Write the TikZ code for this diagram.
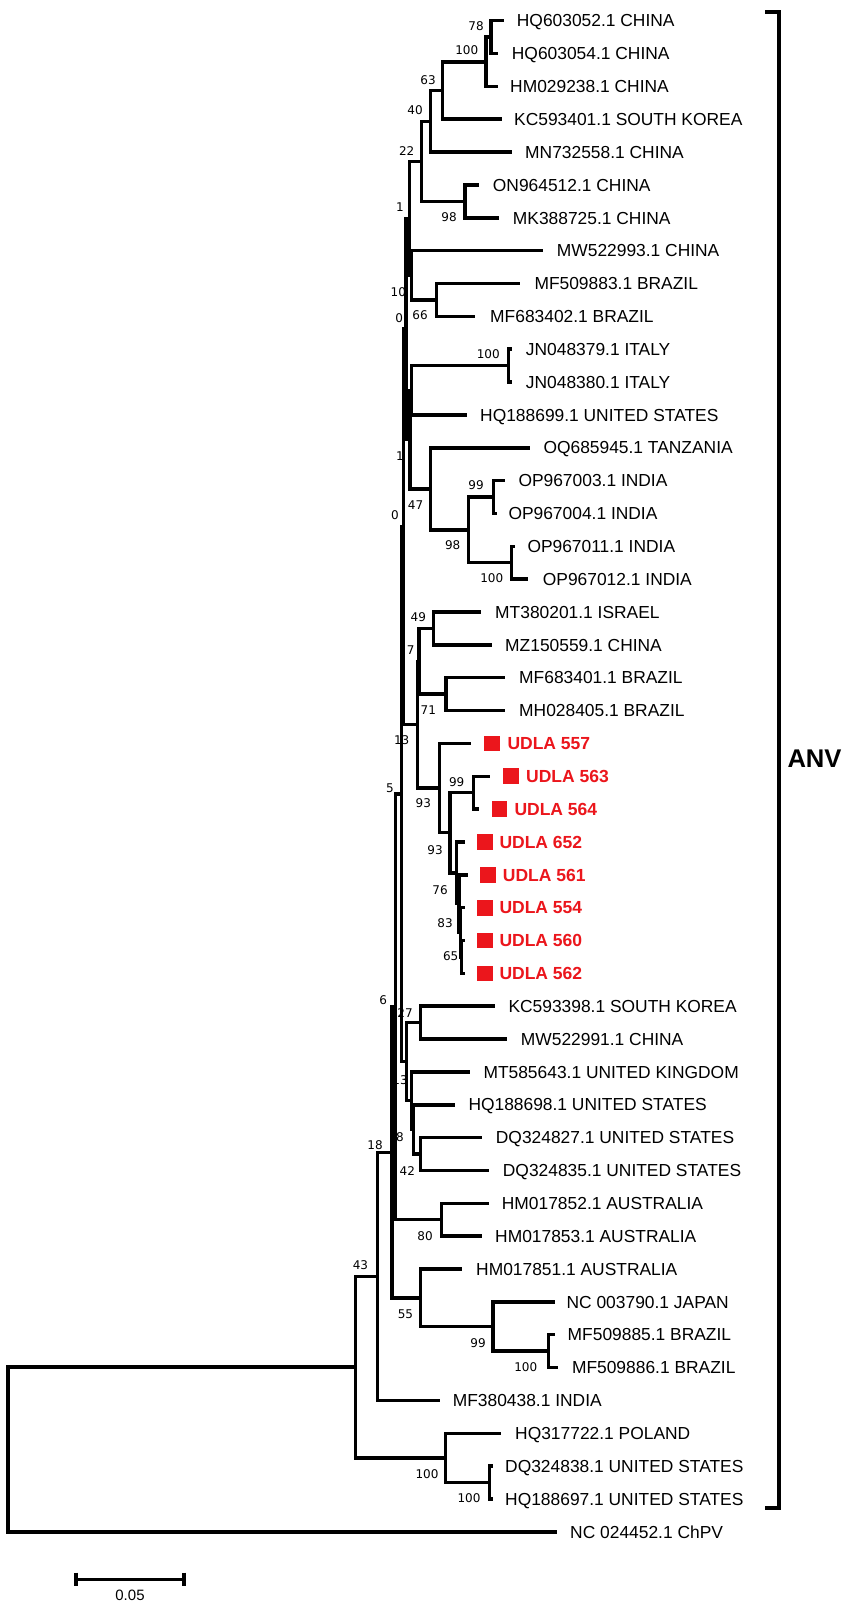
\documentclass[tikz,border=0pt]{standalone}
\usepackage{fontspec}
\setmainfont{Liberation Sans}
\newfontfamily\dejavu{DejaVu Sans}
\definecolor{udred}{RGB}{235,22,28}
\newcommand\lfnt{\fontsize{17.4}{20}\selectfont}
\newcommand\bfnt{\dejavu\fontsize{12}{14}\selectfont}
\newcommand\ufnt{\bfseries\fontsize{17.5}{20}\selectfont}
\newcommand\mkleaf[5]{\coordinate (#1) at (#2,#3); \node[leaf] (#1t) at (#4,#3) {#5};}
\newcommand\mkudla[6]{\coordinate (#1) at (#2,#3); \node[sq] (#1s) at ({#4+7.85},#3) {}; \node[ulab] (#1t) at (#5,#3) {#6};}
\tikzset{
  br/.style={line width=3.5pt, line cap=rect},
  leaf/.style={anchor=base west, inner sep=0pt, yshift=-6.2pt, font=\lfnt},
  ulab/.style={anchor=base west, inner sep=0pt, yshift=-6.3pt, font=\ufnt, text=udred},
  sq/.style={fill=udred, draw=none, minimum size=15.7pt, inner sep=0pt},
  bs/.style={inner sep=0pt, font=\bfnt},
  brk/.style={line width=4pt},
  sbar/.style={line width=3.5pt},
}
\begin{document}
\begin{tikzpicture}[x=1pt,y=-1pt]
\fill[white] (0,0) rectangle (851,1608);
\useasboundingbox (0,0) rectangle (851,1608);

% ---------- leaves ----------
\mkleaf{L1}{502.7}{20.70}{516.7}{HQ603052.1 CHINA}
\mkleaf{L2}{496}{53.55}{511.7}{HQ603054.1 CHINA}
\mkleaf{L3}{496.7}{86.40}{510}{HM029238.1 CHINA}
\mkleaf{L4}{500}{119.25}{514}{KC593401.1 SOUTH KOREA}
\mkleaf{L5}{510}{152.10}{525}{MN732558.1 CHINA}
\mkleaf{L6}{477.3}{184.95}{492.7}{ON964512.1 CHINA}
\mkleaf{L7}{497.3}{217.80}{512.7}{MK388725.1 CHINA}
\mkleaf{L8}{541.7}{250.65}{556.7}{MW522993.1 CHINA}
\mkleaf{L9}{518.3}{283.50}{534.3}{MF509883.1 BRAZIL}
\mkleaf{L10}{473.3}{316.35}{490}{MF683402.1 BRAZIL}
\mkleaf{L11}{509.8}{349.20}{525.7}{JN048379.1 ITALY}
\mkleaf{L12}{509.8}{382.05}{525.7}{JN048380.1 ITALY}
\mkleaf{L13}{465.7}{414.90}{480}{HQ188699.1 UNITED STATES}
\mkleaf{L14}{528.3}{447.75}{543.3}{OQ685945.1 TANZANIA}
\mkleaf{L15}{503.3}{480.60}{518.3}{OP967003.1 INDIA}
\mkleaf{L16}{495.5}{513.45}{508.3}{OP967004.1 INDIA}
\mkleaf{L17}{513.5}{546.30}{527.3}{OP967011.1 INDIA}
\mkleaf{L18}{526.7}{579.15}{542.7}{OP967012.1 INDIA}
\mkleaf{L19}{479.3}{612.00}{495}{MT380201.1 ISRAEL}
\mkleaf{L20}{490}{644.85}{505}{MZ150559.1 CHINA}
\mkleaf{L21}{503.3}{677.70}{519}{MF683401.1 BRAZIL}
\mkleaf{L22}{503.3}{710.55}{519}{MH028405.1 BRAZIL}
\mkudla{L23}{469.3}{743.40}{484.3}{507.3}{UDLA 557}
\mkudla{L24}{488.3}{776.25}{503.3}{526}{UDLA 563}
\mkudla{L25}{477.3}{809.10}{491.7}{514.3}{UDLA 564}
\mkudla{L26}{463.3}{841.95}{477.3}{499.3}{UDLA 652}
\mkudla{L27}{466}{874.80}{480}{502.7}{UDLA 561}
\mkudla{L28}{463}{907.65}{477}{499.3}{UDLA 554}
\mkudla{L29}{463.5}{940.50}{477.3}{499.3}{UDLA 560}
\mkudla{L30}{463.5}{973.35}{477.3}{499.3}{UDLA 562}
\mkleaf{L31}{493.3}{1006.20}{508.3}{KC593398.1 SOUTH KOREA}
\mkleaf{L32}{505}{1039.05}{520.7}{MW522991.1 CHINA}
\mkleaf{L33}{468.3}{1071.90}{483.3}{MT585643.1 UNITED KINGDOM}
\mkleaf{L34}{453.3}{1104.75}{468.3}{HQ188698.1 UNITED STATES}
\mkleaf{L35}{480}{1137.60}{495.7}{DQ324827.1 UNITED STATES}
\mkleaf{L36}{487.3}{1170.45}{502.7}{DQ324835.1 UNITED STATES}
\mkleaf{L37}{487.3}{1203.30}{501.7}{HM017852.1 AUSTRALIA}
\mkleaf{L38}{480}{1236.15}{495}{HM017853.1 AUSTRALIA}
\mkleaf{L39}{460.7}{1269.00}{476}{HM017851.1 AUSTRALIA}
\mkleaf{L40}{552.8}{1301.85}{566.4}{NC 003790.1 JAPAN}
\mkleaf{L41}{552.8}{1334.70}{567.5}{MF509885.1 BRAZIL}
\mkleaf{L42}{556.6}{1367.55}{571.8}{MF509886.1 BRAZIL}
\mkleaf{L43}{438}{1400.40}{452.6}{MF380438.1 INDIA}
\mkleaf{L44}{499.7}{1433.25}{515}{HQ317722.1 POLAND}
\mkleaf{L45}{491}{1466.10}{505}{DQ324838.1 UNITED STATES}
\mkleaf{L46}{491.6}{1498.95}{505}{HQ188697.1 UNITED STATES}
\mkleaf{L47}{555.6}{1531.80}{570}{NC 024452.1 ChPV}

% ---------- internal nodes ----------
\coordinate (n78) at (491,37.13);
\coordinate (n100t) at (486,61.76);
\coordinate (n63) at (442.7,90.51);
\coordinate (n40) at (430.7,121.30);
\coordinate (n98a) at (465,201.38);
\coordinate (n22) at (421.7,161.34);
\coordinate (n66) at (436.7,299.93);
\coordinate (n10) at (411.7,275.29);
\coordinate (n1t) at (409.3,218.31);
\coordinate (nIt) at (508.3,365.63);
\coordinate (nA) at (411.7,390.26);
\coordinate (n99) at (493.3,497.03);
\coordinate (n100d) at (511.7,562.73);
\coordinate (n98b) at (468.3,529.88);
\coordinate (n47) at (430.7,488.81);
\coordinate (nC) at (409.8,439.54);
\coordinate (nE) at (406,328.92);
\coordinate (n49) at (433.3,628.43);
\coordinate (n71) at (446,694.13);
\coordinate (n7) at (419,661.28);
\coordinate (n99u) at (473.3,792.68);
\coordinate (n65) at (461.5,956.93);
\coordinate (n83) at (460.5,932.29);
\coordinate (nq) at (459,903.55);
\coordinate (n76) at (456.7,872.75);
\coordinate (n93b) at (450,832.72);
\coordinate (n93a) at (439.3,788.06);
\coordinate (n13) at (417.3,724.67);
\coordinate (nF) at (403.3,526.80);
\coordinate (n27) at (420.7,1022.63);
\coordinate (n42) at (420.7,1154.03);
\coordinate (nH2) at (413.5,1129.39);
\coordinate (nH1) at (411.7,1100.65);
\coordinate (nI) at (406.7,1061.64);
\coordinate (nG) at (401.7,794.22);
\coordinate (n80) at (441.7,1219.73);
\coordinate (N5) at (395.3,1006.98);
\coordinate (n100c) at (548.5,1351.13);
\coordinate (n99c) at (493.2,1326.49);
\coordinate (n55) at (420.6,1297.75);
\coordinate (B6) at (392,1152.37);
\coordinate (N18) at (377.5,1276.39);
\coordinate (n100b) at (489.4,1482.53);
\coordinate (n100a) at (445.5,1457.89);
\coordinate (N43) at (355.5,1367.14);
\coordinate (root) at (8,1449.47);

% ---------- bootstrap values ----------
\node[bs] (b1) at (476,26) {78};
\node[bs] (b2) at (466.7,50) {100};
\node[bs] (b3) at (428,80) {63};
\node[bs] (b4) at (415,110) {40};
\node[bs] (b5) at (406.7,150.7) {22};
\node[bs] (b6) at (449,217.3) {98};
\node[bs] (b7) at (400,207.3) {1};
\node[bs] (b8) at (398.3,291.7) {10};
\node[bs] (b9) at (399.3,318.3) {0};
\node[bs] (b10) at (420,315) {66};
\node[bs] (b11) at (488.3,354) {100};
\node[bs] (b12) at (400,455.7) {1};
\node[bs] (b13) at (415.5,505) {47};
\node[bs] (b14) at (476,485) {99};
\node[bs] (b15) at (395,515) {0};
\node[bs] (b16) at (452.7,545) {98};
\node[bs] (b17) at (491.7,578.3) {100};
\node[bs] (b18) at (418.3,616.7) {49};
\node[bs] (b19) at (410.7,650) {7};
\node[bs] (b20) at (428.3,710) {71};
\node[bs] (b21) at (401.7,740) {13};
\node[bs] (b22) at (456.7,781.7) {99};
\node[bs] (b23) at (390,788) {5};
\node[bs] (b24) at (423.3,803.3) {93};
\node[bs] (b25) at (435,850) {93};
\node[bs] (b26) at (440,890) {76};
\node[bs] (b27) at (445,922.7) {83};
\node[bs] (b28) at (450.7,956) {65};
\node[bs] (b29) at (383.3,1000) {6};
\node[bs] (b30) at (405,1012.7) {27};
\node[bs] (b31) at (400,1080) {13};
\node[bs] (b32) at (400,1136.7) {8};
\node[bs] (b33) at (407.3,1170.7) {42};
\node[bs] (b34) at (375,1145) {18};
\node[bs] (b35) at (425,1236) {80};
\node[bs] (b36) at (360.4,1265) {43};
\node[bs] (b37) at (405.4,1314) {55};
\node[bs] (b38) at (478,1343.3) {99};
\node[bs] (b39) at (525.7,1367.3) {100};
\node[bs] (b40) at (427,1474) {100};
\node[bs] (b41) at (469,1498) {100};

% ---------- branches ----------
\foreach \p/\c in {n78/L1, n78/L2, n100t/n78, n100t/L3, n63/n100t, n63/L4,
  n40/n63, n40/L5, n98a/L6, n98a/L7, n22/n40, n22/n98a, n66/L9, n66/L10,
  n10/L8, n10/n66, n1t/n22, n1t/n10, nIt/L11, nIt/L12, nA/nIt, nA/L13,
  n99/L15, n99/L16, n100d/L17, n100d/L18, n98b/n99, n98b/n100d, n47/L14,
  n47/n98b, nC/nA, nC/n47, nE/n1t, nE/nC, n49/L19, n49/L20, n71/L21, n71/L22,
  n7/n49, n7/n71, n99u/L24, n99u/L25, n65/L29, n65/L30, n83/L28, n83/n65,
  nq/L27, nq/n83, n76/L26, n76/nq, n93b/n99u, n93b/n76, n93a/L23, n93a/n93b,
  n13/n7, n13/n93a, nF/nE, nF/n13, n27/L31, n27/L32, n42/L35, n42/L36,
  nH2/L34, nH2/n42, nH1/L33, nH1/nH2, nI/n27, nI/nH1, nG/nF, nG/nI,
  n80/L37, n80/L38, N5/nG, N5/n80, n100c/L41, n100c/L42, n99c/L40,
  n99c/n100c, n55/L39, n55/n99c, B6/N5, B6/n55, N18/B6, N18/L43,
  n100b/L45, n100b/L46, n100a/L44, n100a/n100b, N43/N18, N43/n100a,
  root/N43, root/L47}
  \draw[br] (\p) |- (\c);

% ---------- clade bracket ----------
\coordinate (brTl) at (765,11.7);
\coordinate (brT) at (779.4,11.7);
\coordinate (brB) at (779.4,1508.3);
\coordinate (brBl) at (765,1508.3);
\draw[brk] (brTl) -- (brT) -- (brB) -- (brBl);
\node[anchor=base west, inner sep=0pt, font=\bfseries\fontsize{25.6}{30}\selectfont] (anv) at (787.3,767) {ANV};

% ---------- scale bar ----------
\coordinate (sbL) at (76,1579.3);
\coordinate (sbR) at (184,1579.3);
\draw[sbar] (sbL) -- (sbR);
\draw[sbar] ([yshift=6.7pt]sbL) -- ([yshift=-6.7pt]sbL);
\draw[sbar] ([yshift=6.7pt]sbR) -- ([yshift=-6.7pt]sbR);
\node[inner sep=0pt, font=\fontsize{15}{17}\selectfont] (sbt) at (130,1595) {0.05};
\end{tikzpicture}
\end{document}
